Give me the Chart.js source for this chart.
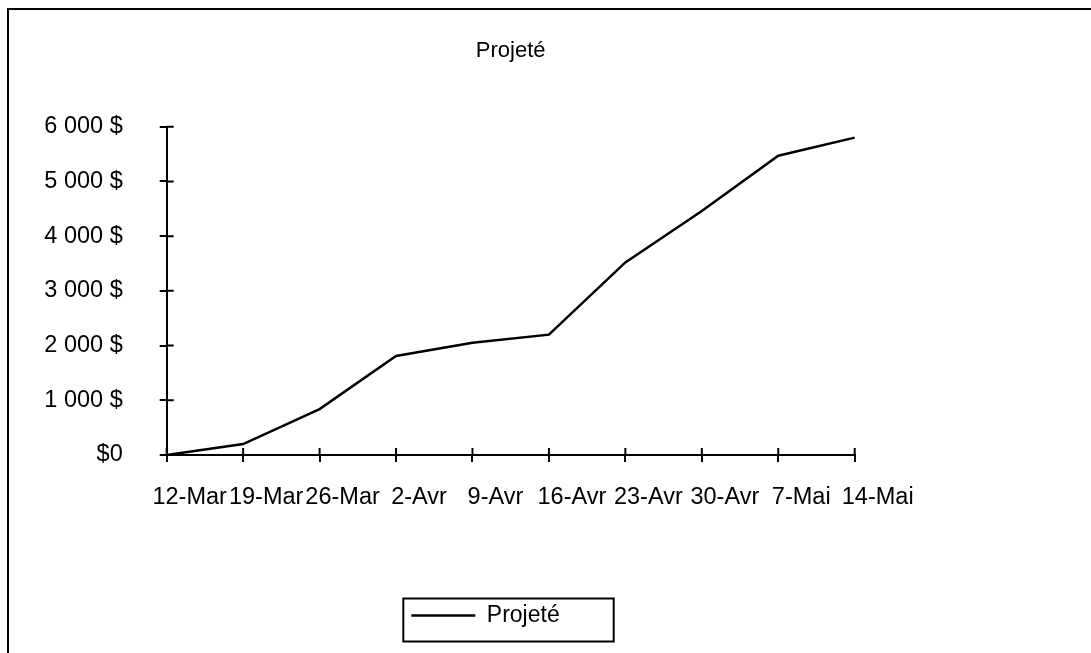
<!DOCTYPE html>
<html>
<head>
<meta charset="utf-8">
<title>Projeté</title>
<script src="https://cdn.jsdelivr.net/npm/chart.js@4/dist/chart.umd.min.js"></script>
<style>
  html, body { margin: 0; padding: 0; background: #fff; }
  #wrap { width: 1091px; height: 653px; position: relative; }
</style>
</head>
<body>
<div id="wrap"><canvas id="projete"></canvas></div>
<script>
const weeks = ["12-Mar", "19-Mar", "26-Mar", "2-Avr", "9-Avr", "16-Avr", "23-Avr", "30-Avr", "7-Mai", "14-Mai"];
const projete = [0, 200, 840, 1810, 2050, 2200, 3520, 4460, 5470, 5800];
const yTickLabels = ["$0", "1 000 $", "2 000 $", "3 000 $", "4 000 $", "5 000 $", "6 000 $"];

const FONT = "'Liberation Sans', Arial, sans-serif";

// outer frame (only top and left edges fall inside the canvas)
const frame = {
  id: "frame",
  afterDraw(chart) {
    const ctx = chart.ctx;
    ctx.save();
    ctx.strokeStyle = "#000";
    ctx.lineWidth = 2;
    ctx.strokeRect(8, 9, chart.width + 20, chart.height + 20);
    ctx.restore();
  }
};

// tick marks crossing the axes: inner half of each mark
const crossTicks = {
  id: "crossTicks",
  afterDraw(chart) {
    const { ctx, chartArea, scales } = chart;
    ctx.save();
    ctx.strokeStyle = "#000";
    ctx.lineWidth = 2;
    ctx.beginPath();
    scales.y.ticks.forEach((t, i) => {
      const y = scales.y.getPixelForTick(i);
      ctx.moveTo(chartArea.left, y);
      ctx.lineTo(chartArea.left + 7, y);
    });
    scales.x.ticks.forEach((t, i) => {
      const x = scales.x.getPixelForTick(i);
      ctx.moveTo(x, chartArea.bottom);
      ctx.lineTo(x, chartArea.bottom - 7);
    });
    ctx.stroke();
    ctx.restore();
  }
};

// box around the legend entry
const legendBox = {
  id: "legendBox",
  afterDraw(chart) {
    const hb = chart.legend && chart.legend.legendHitBoxes[0];
    if (!hb) return;
    const cy = hb.top + hb.height / 2;
    const ctx = chart.ctx;
    ctx.save();
    ctx.strokeStyle = "#000";
    ctx.lineWidth = 2;
    ctx.strokeRect(hb.left - 8, cy - 17, hb.width + 62, 43);
    ctx.restore();
  }
};

new Chart(document.getElementById("projete").getContext("2d"), {
  type: "line",
  data: {
    labels: weeks,
    datasets: [{
      label: "Projeté",
      data: projete,
      borderColor: "#000",
      backgroundColor: "#000",
      borderWidth: 2.5,
      pointRadius: 0,
      pointStyle: "line",
      tension: 0,
      fill: false
    }]
  },
  options: {
    responsive: true,
    maintainAspectRatio: false,
    animation: false,
    layout: { padding: { left: 20, right: 140, top: 0, bottom: 16 } },
    plugins: {
      title: {
        display: true,
        text: "Projeté",
        fullSize: false,
        color: "#000",
        font: { family: FONT, size: 22, weight: "normal" },
        padding: { top: 38, bottom: 62.3 }
      },
      legend: {
        position: "bottom",
        labels: {
          color: "#000",
          font: { family: FONT, size: 23 },
          usePointStyle: true,
          pointStyleWidth: 64,
          padding: 10
        }
      },
      tooltip: { enabled: false }
    },
    scales: {
      x: {
        type: "category",
        offset: false,
        afterFit(scale) { scale.height = 139; },
        border: { color: "#000", width: 2 },
        grid: { drawOnChartArea: false, drawTicks: true, tickLength: 7, color: "#000", lineWidth: 2, offset: false },
        ticks: {
          color: "#000",
          font: { family: FONT, size: 23.5 },
          padding: 21,
          labelOffset: 23,
          maxRotation: 0,
          minRotation: 0,
          autoSkip: false
        }
      },
      y: {
        min: 0,
        max: 6000,
        afterFit(scale) { scale.width = 146.7; },
        border: { color: "#000", width: 2 },
        grid: { drawOnChartArea: false, drawTicks: true, tickLength: 7, color: "#000", lineWidth: 2 },
        ticks: {
          stepSize: 1000,
          color: "#000",
          font: { family: FONT, size: 23.5 },
          padding: 37,
          callback: (v, i) => yTickLabels[i]
        }
      },
      // empty right-hand spacer keeping the plot clear of the right margin
      y2: {
        position: "right",
        min: 0,
        max: 1,
        afterFit(scale) { scale.width = 96.3; },
        border: { display: false },
        grid: { display: false },
        ticks: { display: false }
      }
    }
  },
  plugins: [frame, crossTicks, legendBox]
});
</script>
</body>
</html>
